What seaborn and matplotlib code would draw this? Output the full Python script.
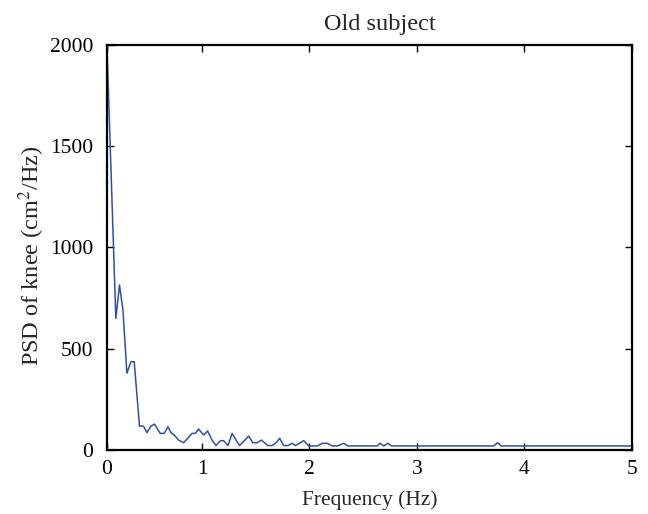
import matplotlib
matplotlib.use("Agg")
import matplotlib.pyplot as plt
import seaborn as sns
import pandas as pd

# Power spectral density of knee motion, old subject
freq_hz = [0.115, 0.198, 0.232, 0.264, 0.301, 0.338, 0.369, 0.418, 0.456, 0.487,
           0.525, 0.558, 0.611, 0.649, 0.683, 0.711, 0.742, 0.782, 0.829, 0.866,
           0.907, 0.938, 0.968, 1.015, 1.052, 1.093, 1.130, 1.171, 1.201, 1.242,
           1.280, 1.317, 1.350, 1.394, 1.434, 1.472, 1.513, 1.553, 1.611, 1.652,
           1.690, 1.723, 1.760, 1.798, 1.839, 1.870, 1.916, 1.947, 1.993, 2.072,
           2.118, 2.165, 2.212, 2.258, 2.320, 2.357, 2.631, 2.655, 2.692, 2.730,
           2.764, 3.715, 3.750, 3.785, 5.0]
psd_knee = [2000, 650, 815, 691, 379, 436, 436, 118, 118, 86,
            118, 128, 82, 82, 115, 86, 74, 49, 36, 58,
            82, 82, 104, 74, 94, 49, 22, 46, 46, 22,
            82, 49, 22, 46, 69, 36, 36, 49, 22, 22,
            36, 58, 22, 22, 33, 22, 36, 46, 20, 20,
            33, 33, 20, 20, 33, 20, 20, 33, 20, 33,
            20, 20, 36, 20, 20]

x_ticks = [0.115, 1, 2, 3, 4, 5]
x_tick_labels = ["0", "1", "2", "3", "4", "5"]
y_ticks = [0, 500, 1000, 1500, 2000]

df = pd.DataFrame({"Frequency (Hz)": freq_hz, "PSD": psd_knee})

sns.set_style("ticks")
plt.rcParams["font.family"] = ["Liberation Serif", "DejaVu Serif"]
plt.rcParams["mathtext.fontset"] = "stix"

fig = plt.figure(figsize=(6.48, 5.14), dpi=100)
ax = fig.add_axes([0.165, 0.1245, 0.81, 0.788])

sns.lineplot(data=df, x="Frequency (Hz)", y="PSD", ax=ax,
             color="#2F4FA8", linewidth=1.1, sort=False)

ax.set_xlim(0.115, 5.0)
ax.set_ylim(0, 2000)
ax.set_xticks(x_ticks)
ax.set_xticklabels(x_tick_labels)
ax.set_yticks(y_ticks)

ax.tick_params(direction="in", length=5, width=1, top=True, right=True,
               labelsize=15.5, colors="black")
ax.tick_params(axis="y", pad=10)
ax.tick_params(axis="x", pad=7)
for side in ["left", "right", "top", "bottom"]:
    ax.spines[side].set_visible(True)
    ax.spines[side].set_linewidth(1.6)
    ax.spines[side].set_color("black")

ax.set_xlabel("Frequency (Hz)", fontsize=15.5, labelpad=8)
ax.set_ylabel(r"PSD of knee (cm$^2$/Hz)", fontsize=17.5)
ax.yaxis.set_label_coords(-0.114, 0.48)
ax.set_title("Old subject", fontsize=17.5, x=0.52, pad=11)

fig.savefig("out.png", dpi=100)
